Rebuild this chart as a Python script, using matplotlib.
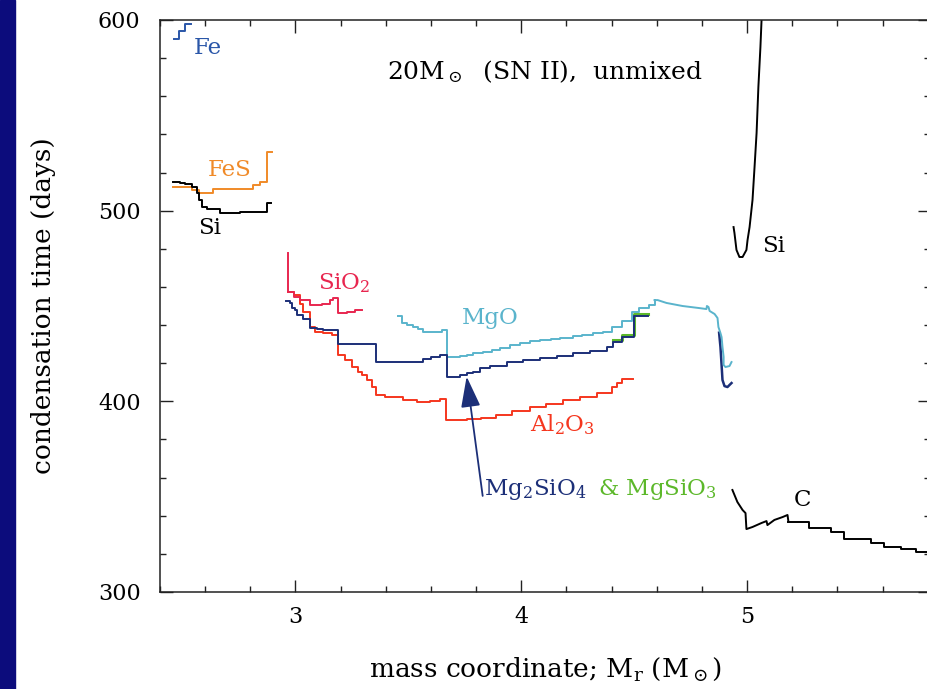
import matplotlib
matplotlib.use('Agg')
import matplotlib.pyplot as plt
from matplotlib.patches import Rectangle
from matplotlib.ticker import MultipleLocator

plt.rcParams['font.family'] = 'DejaVu Serif'
plt.rcParams['mathtext.fontset'] = 'dejavuserif'

# Fe (step)
fe_x = [2.462, 2.484, 2.510, 2.537]
fe_y = [590.0, 594.0, 598.0, 598.0]

# FeS (step)
fes_x = [2.458, 2.542, 2.573, 2.635, 2.754, 2.812, 2.842, 2.873, 2.882, 2.896]
fes_y = [512.4, 510.8, 509.3, 511.4, 511.4, 513.5, 515.0, 530.8, 530.8, 530.8]

# Si, inner zone (step)
si1_x = [2.458, 2.489, 2.511, 2.542, 2.564, 2.573, 2.586, 2.608, 2.666, 2.754, 2.873, 2.890]
si1_y = [515.0, 514.5, 514.0, 512.4, 509.3, 505.6, 501.9, 500.9, 498.8, 499.3, 504.0, 504.0]

# SiO2 (step)
sio2_x = [2.966, 2.966, 2.993, 3.019, 3.064, 3.117, 3.153, 3.166, 3.188, 3.227, 3.263, 3.294]
sio2_y = [477.8, 457.3, 454.7, 453.2, 450.5, 451.1, 453.4, 454.2, 446.3, 446.9, 447.9, 447.9]

# Al2O3 (step)
al2o3_x = [2.966, 2.993, 3.019, 3.033, 3.064, 3.086, 3.121, 3.161, 3.188, 3.219, 3.250,
           3.276, 3.294, 3.316, 3.340, 3.356, 3.396, 3.475, 3.537, 3.595, 3.640, 3.665,
           3.758, 3.820, 3.890, 3.960, 4.037, 4.110, 4.183, 4.260, 4.334, 4.400, 4.424,
           4.444, 4.495]
al2o3_y = [457.3, 455.8, 451.0, 446.9, 439.0, 436.4, 435.8, 434.8, 424.3, 421.7, 418.0,
           415.4, 413.8, 411.2, 407.5, 403.3, 402.3, 400.7, 399.7, 400.2, 401.2, 390.2,
           390.7, 391.5, 392.8, 395.0, 397.0, 398.8, 400.7, 402.5, 404.4, 407.5, 409.6,
           411.7, 411.7]

# Mg2SiO4 (step) + outer hook
mg2_x = [2.958, 2.975, 2.984, 2.997, 3.006, 3.033, 3.064, 3.095, 3.121, 3.188, 3.356,
         3.564, 3.600, 3.640, 3.670, 3.727, 3.758, 3.785, 3.816, 3.860, 3.935, 4.006,
         4.081, 4.157, 4.227, 4.303, 4.378, 4.404, 4.444, 4.497, 4.559]
mg2_y = [452.6, 451.6, 449.0, 447.9, 445.3, 443.2, 438.5, 437.9, 437.4, 430.1, 420.6,
         422.0, 423.3, 424.3, 412.8, 413.8, 414.9, 415.4, 417.5, 418.5, 420.6, 421.7,
         422.7, 423.8, 425.4, 426.4, 428.5, 431.1, 433.7, 444.8, 444.8]
mg2_hook_x = [4.876, 4.882, 4.887, 4.891, 4.900, 4.913, 4.931]
mg2_hook_y = [436.0, 428.5, 419.1, 411.2, 408.0, 407.5, 409.6]

# MgSiO3 (step)
mgsio3_x = [4.404, 4.444, 4.497, 4.559]
mgsio3_y = [432.1, 434.7, 446.0, 446.0]

# MgO (step part, then smooth part)
mgo_x = [3.453, 3.471, 3.493, 3.520, 3.542, 3.564, 3.648, 3.670, 3.727, 3.758, 3.785,
         3.829, 3.870, 3.904, 3.950, 3.993, 4.040, 4.081, 4.130, 4.170, 4.227, 4.270,
         4.316, 4.360, 4.400, 4.444, 4.490, 4.520, 4.565, 4.590]
mgo_y = [444.8, 441.1, 440.0, 439.0, 437.9, 436.4, 437.4, 423.3, 423.8, 424.3, 425.4,
         425.9, 426.9, 428.0, 429.3, 430.6, 431.4, 432.2, 432.7, 433.2, 434.3, 435.0,
         435.8, 436.6, 439.0, 442.1, 446.9, 449.0, 450.5, 453.1]
mgo_tail_x = [4.590, 4.604, 4.643, 4.714, 4.789, 4.820, 4.822, 4.829, 4.834, 4.856, 4.869,
              4.873, 4.882, 4.887, 4.891, 4.896, 4.896, 4.904, 4.922, 4.931]
mgo_tail_y = [453.1, 453.1, 451.6, 450.0, 448.9, 448.4, 450.0, 449.5, 447.4, 445.8, 443.7,
              439.0, 435.8, 433.7, 428.5, 423.3, 419.1, 418.0, 418.5, 420.6]

# Si, outer zone (smooth)
si2_x = [4.940, 4.944, 4.953, 4.966, 4.980, 4.997, 5.002, 5.011, 5.024, 5.033, 5.042,
         5.050, 5.059, 5.064, 5.067]
si2_y = [491.4, 488.3, 479.4, 475.7, 475.7, 479.4, 484.6, 491.4, 505.6, 522.9, 540.7,
         564.9, 585.8, 600.0, 610.0]

# C (smooth head, stepped tail)
c_head_x = [4.935, 4.957, 4.980, 4.993, 4.997, 5.024, 5.064, 5.086, 5.090, 5.121, 5.157,
            5.179, 5.183]
c_head_y = [353.5, 347.2, 343.0, 341.4, 333.0, 334.1, 336.2, 337.2, 335.1, 337.8, 339.3,
            340.4, 336.9]
c_tail_x = [5.183, 5.276, 5.373, 5.431, 5.550, 5.608, 5.683, 5.750, 5.810]
c_tail_y = [336.9, 333.4, 331.6, 327.6, 325.9, 323.8, 322.4, 321.1, 321.1]

C_FE = '#2a56a8'
C_FES = '#f08a28'
C_SIO2 = '#e8264f'
C_AL = '#f5361e'
C_MGO = '#5ab4cc'
C_MG2 = '#1c2f78'
C_MGSIO3 = '#5cb82a'

fig = plt.figure(figsize=(9.27, 6.89), dpi=100)
fig.patch.set_facecolor('#ffffff')
fig.patches.append(Rectangle((0, 0), 15 / 927, 1, transform=fig.transFigure,
                             color='#0c0c7c', zorder=0))
ax = fig.add_axes([160 / 927, 97 / 689, 770 / 927, 572 / 689])

lw = 1.4
ax.step(fe_x, fe_y, where='post', color=C_FE, lw=lw)
ax.step(fes_x, fes_y, where='post', color=C_FES, lw=lw)
ax.step(si1_x, si1_y, where='post', color='black', lw=lw)
ax.step(al2o3_x, al2o3_y, where='post', color=C_AL, lw=lw)
ax.step(sio2_x, sio2_y, where='post', color=C_SIO2, lw=lw)
ax.step(mgsio3_x, mgsio3_y, where='post', color=C_MGSIO3, lw=lw + 0.8)
ax.plot(mg2_hook_x, mg2_hook_y, color=C_MG2, lw=lw + 0.4)
ax.step(mgo_x, mgo_y, where='post', color=C_MGO, lw=lw)
ax.plot(mgo_tail_x, mgo_tail_y, color=C_MGO, lw=lw)
ax.step(mg2_x, mg2_y, where='post', color=C_MG2, lw=lw)
ax.plot(si2_x, si2_y, color='black', lw=lw)
ax.plot(c_head_x, c_head_y, color='black', lw=lw)
ax.step(c_tail_x, c_tail_y, where='post', color='black', lw=lw)

# arrow from the Mg2SiO4 label to its curve
ax.annotate('', xy=(3.758, 413.0), xytext=(3.829, 350.4),
            arrowprops=dict(arrowstyle='-|>,head_length=1.9,head_width=0.6',
                            color=C_MG2, lw=1.3, shrinkA=0, shrinkB=0))

fs = 16.5
ax.text(2.548, 585.3, 'Fe', color=C_FE, fontsize=fs, va='center')
ax.text(2.612, 521.3, 'FeS', color=C_FES, fontsize=fs, va='center')
ax.text(2.568, 491.0, 'Si', color='black', fontsize=fs, va='center')
ax.text(3.099, 462.0, r'SiO$_2$', color=C_SIO2, fontsize=fs, va='center')
ax.text(3.736, 443.7, 'MgO', color=C_MGO, fontsize=fs, va='center')
ax.text(4.037, 387.6, r'Al$_2$O$_3$', color=C_AL, fontsize=fs, va='center')
ax.text(3.834, 353.5, r'Mg$_2$SiO$_4$', color=C_MG2, fontsize=fs, va='center')
ax.text(4.338, 353.5, r'& MgSiO$_3$', color=C_MGSIO3, fontsize=fs, va='center')
ax.text(5.205, 348.0, 'C', color='black', fontsize=fs, va='center')
ax.text(5.068, 481.5, 'Si', color='black', fontsize=fs, va='center')
ax.text(3.405, 572.7, r'20M$_\odot$  (SN II),  unmixed', color='black', fontsize=18,
        va='center')

ax.set_xlim(2.4, 5.81)
ax.set_ylim(300, 600)
ax.xaxis.set_major_locator(MultipleLocator(1))
ax.xaxis.set_minor_locator(MultipleLocator(0.2))
ax.yaxis.set_major_locator(MultipleLocator(100))
ax.yaxis.set_minor_locator(MultipleLocator(20))
ax.tick_params(which='both', direction='in', top=True, right=True, width=1.0,
               color='#222222')
ax.tick_params(which='major', length=9, labelsize=16)
ax.tick_params(which='minor', length=4.5)
ax.tick_params(axis='y', which='major', pad=14)
ax.tick_params(axis='x', which='major', pad=10)
for s in ax.spines.values():
    s.set_linewidth(1.1)
    s.set_color('#222222')

ax.set_xlabel(r'mass coordinate; M$_{\rm r}$ (M$_\odot$)', fontsize=19, labelpad=20)
ax.set_ylabel('condensation time (days)', fontsize=19, labelpad=30)

plt.savefig('out.png', dpi=100, facecolor=fig.get_facecolor())
print("DONE: out.png")
